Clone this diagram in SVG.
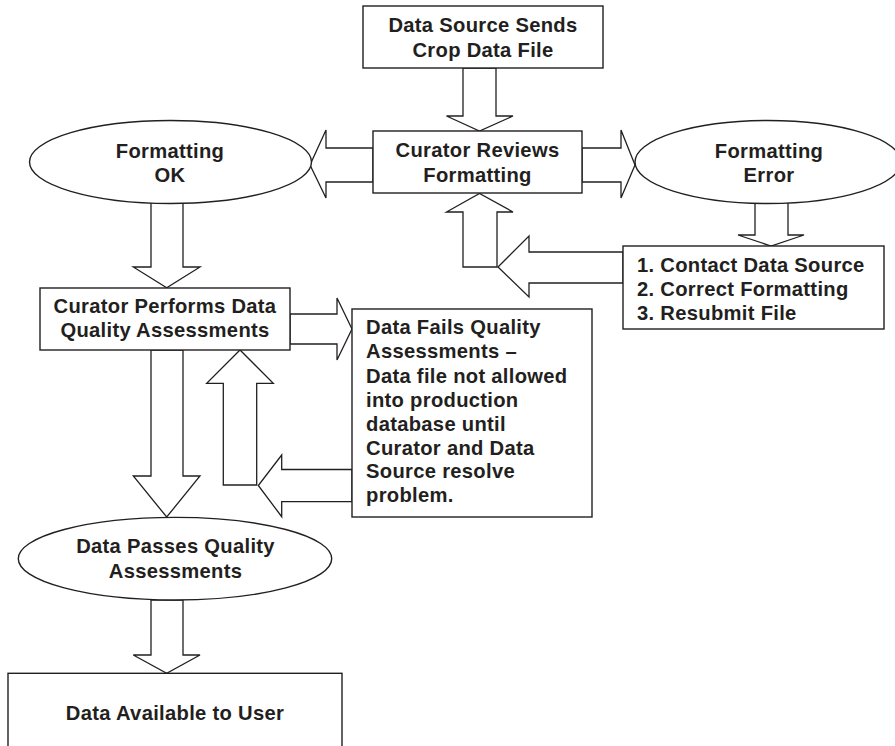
<svg xmlns="http://www.w3.org/2000/svg" width="895" height="746" viewBox="0 0 895 746">
<style>
.box{fill:#fff;stroke:#231f20;stroke-width:1.4}
.arr{fill:#fff;stroke:#231f20;stroke-width:1.3;stroke-linejoin:miter}
.t{font-family:"Liberation Sans",Arial,sans-serif;font-weight:bold;font-size:20.2px;letter-spacing:0.3px;fill:#231f20}
.c{text-anchor:middle}
</style>
<rect width="895" height="746" fill="#fff"/>
<g id="connectors">
<polygon class="arr" points="463,68 496,68 496,116 513,116 479.5,131 446.5,116 463,116"/>
<polygon class="arr" points="373,148 326,148 326,130 310,165 326,198 326,182 373,182"/>
<polygon class="arr" points="582,148 621,148 621,130 635,165 621,198 621,182 582,182"/>
<polygon class="arr" points="151,202 183,202 183,267 200,267 166.7,287.7 133.3,267 151,267"/>
<polygon class="arr" points="755,202 788,202 788,235 804,235 771,246 738,235 755,235"/>
<polygon class="arr" points="623,252 529,252 529,236 498,267 529,297 529,283 623,283"/>
<polygon class="arr" points="463,267 497,267 497,212 513,212 479.5,193.5 446.5,212 463,212"/>
<polygon class="arr" points="290,314 337,314 337,298 352,329 337,360 337,344 290,344"/>
<polygon class="arr" points="151,350 183,350 183,476 200,476 166.7,517 133.3,476 151,476"/>
<polygon class="arr" points="223.3,485 256.7,485 256.7,383.3 273.3,383.3 240,350 206.7,383.3 223.3,383.3"/>
<polygon class="arr" points="352,469.5 281.7,469.5 281.7,455 258.3,485.5 281.7,516.7 281.7,501.7 352,501.7"/>
<polygon class="arr" points="151,600 183,600 183,655 200,655 166.7,673.3 133.3,655 151,655"/>
</g>
<g id="n-source">
<rect class="box" x="363" y="6" width="240" height="62"/>
<text class="t c" x="483" y="31.5">Data Source Sends</text>
<text class="t c" x="483" y="56.5">Crop Data File</text>
</g>
<g id="n-reviews">
<rect class="box" x="373" y="131" width="209" height="62"/>
<text class="t c" x="477.5" y="156.5">Curator Reviews</text>
<text class="t c" x="477.5" y="181.5">Formatting</text>
</g>
<g id="n-ok">
<ellipse class="box" cx="170.5" cy="162" rx="141" ry="41.5"/>
<text class="t c" x="170" y="158">Formatting</text>
<text class="t c" x="170" y="181.5">OK</text>
</g>
<g id="n-error">
<ellipse class="box" cx="768" cy="162" rx="133" ry="41.5"/>
<text class="t c" x="769" y="158">Formatting</text>
<text class="t c" x="769" y="181.5">Error</text>
</g>
<g id="n-steps">
<rect class="box" x="623" y="246" width="261" height="83"/>
<text class="t" x="637" y="271.5">1. Contact Data Source</text>
<text class="t" x="637" y="295.5">2. Correct Formatting</text>
<text class="t" x="637" y="319.5">3. Resubmit File</text>
</g>
<g id="n-performs">
<rect class="box" x="40" y="288" width="250" height="62"/>
<text class="t c" x="165" y="313">Curator Performs Data</text>
<text class="t c" x="165" y="337">Quality Assessments</text>
</g>
<g id="n-fails">
<rect class="box" x="352" y="309" width="240" height="208"/>
<text class="t" x="366" y="334">Data Fails Quality</text>
<text class="t" x="366" y="358.3">Assessments –</text>
<text class="t" x="366" y="382.6">Data file not allowed</text>
<text class="t" x="366" y="406.7">into production</text>
<text class="t" x="366" y="430.7">database until</text>
<text class="t" x="366" y="455">Curator and Data</text>
<text class="t" x="366" y="478.3">Source resolve</text>
<text class="t" x="366" y="501.7">problem.</text>
</g>
<g id="n-passes">
<ellipse class="box" cx="175" cy="558.7" rx="156.7" ry="41.3"/>
<text class="t c" x="175.5" y="553.3">Data Passes Quality</text>
<text class="t c" x="175.5" y="578.3">Assessments</text>
</g>
<g id="n-available">
<rect class="box" x="8" y="673.3" width="334" height="100"/>
<text class="t c" x="175" y="720">Data Available to User</text>
</g>
</svg>
